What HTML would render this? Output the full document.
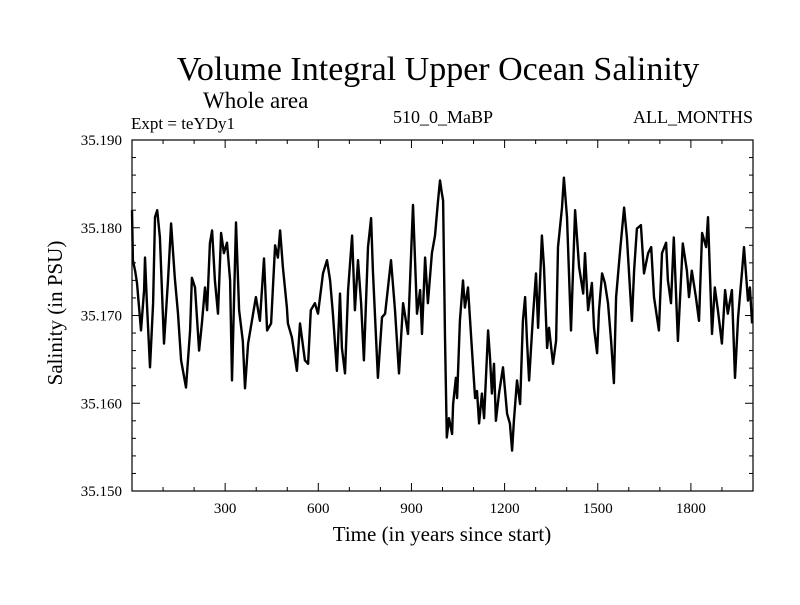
<!DOCTYPE html>
<html><head><meta charset="utf-8"><style>
body{margin:0;background:#fff}
svg text{font-family:"Liberation Serif",serif;fill:#000}
</style></head><body>
<svg width="800" height="600" viewBox="0 0 800 600">
<text x="438" y="80" font-size="34" text-anchor="middle">Volume Integral Upper Ocean Salinity</text>
<text x="203" y="108" font-size="23">Whole area</text>
<text x="131" y="129" font-size="17">Expt = teYDy1</text>
<text x="443" y="123" font-size="18" text-anchor="middle">510_0_MaBP</text>
<text x="753" y="123" font-size="18" text-anchor="end">ALL_MONTHS</text>
<text x="442" y="541" font-size="21" text-anchor="middle">Time (in years since start)</text>
<text transform="translate(62,313) rotate(-90)" font-size="21" text-anchor="middle">Salinity (in PSU)</text>
<g id="axes"></g>
<rect x="132" y="140" width="621" height="351" fill="none" stroke="#000" stroke-width="1.2"/>
<path id="series" fill="none" stroke="#000" stroke-width="2.4" stroke-linejoin="round"/>
</svg>
<script>
const years=[0,3,10,16,29,39,42,48,58,68,74,81,90,103,116,126,138,148,158,174,187,193,203,216,225,235,242,251,258,267,277,287,296,306,316,322,335,345,357,364,374,390,399,412,425,435,448,461,470,477,486,499,502,515,531,541,557,567,576,589,599,615,628,638,647,660,670,676,686,696,709,718,728,738,747,760,770,776,792,805,815,834,847,860,873,889,905,918,928,934,944,953,966,976,985,992,998,1002,1008,1014,1021,1031,1034,1043,1047,1056,1066,1072,1082,1095,1105,1111,1118,1127,1134,1147,1153,1159,1166,1172,1182,1195,1208,1217,1224,1230,1240,1250,1259,1266,1272,1279,1291,1301,1308,1320,1327,1337,1343,1356,1366,1372,1385,1391,1401,1414,1427,1440,1453,1459,1469,1481,1488,1498,1504,1514,1523,1533,1543,1552,1559,1572,1585,1594,1610,1617,1626,1639,1649,1662,1672,1681,1697,1707,1720,1726,1736,1745,1758,1774,1787,1794,1803,1816,1826,1836,1849,1855,1868,1877,1887,1900,1910,1919,1932,1942,1952,1965,1971,1984,1990,1997];
const salinity=[35.1820,35.1763,35.1751,35.1737,35.1683,35.1729,35.1766,35.1714,35.1641,35.1714,35.1812,35.1820,35.1789,35.1668,35.1740,35.1805,35.1743,35.1702,35.1649,35.1618,35.1683,35.1743,35.1732,35.1660,35.1691,35.1732,35.1706,35.1782,35.1797,35.1740,35.1702,35.1794,35.1771,35.1783,35.1740,35.1626,35.1806,35.1706,35.1671,35.1617,35.1668,35.1702,35.1721,35.1694,35.1765,35.1683,35.1691,35.1780,35.1766,35.1797,35.1755,35.1709,35.1691,35.1675,35.1637,35.1691,35.1649,35.1645,35.1706,35.1714,35.1702,35.1748,35.1763,35.1740,35.1702,35.1637,35.1725,35.1663,35.1634,35.1729,35.1791,35.1706,35.1763,35.1714,35.1649,35.1778,35.1811,35.1751,35.1629,35.1698,35.1702,35.1763,35.1706,35.1634,35.1714,35.1679,35.1826,35.1702,35.1729,35.1679,35.1766,35.1714,35.1771,35.1791,35.1828,35.1854,35.1839,35.1831,35.1675,35.1561,35.1583,35.1565,35.1599,35.1629,35.1606,35.1694,35.1740,35.1709,35.1732,35.1660,35.1606,35.1614,35.1577,35.1611,35.1583,35.1683,35.1652,35.1611,35.1645,35.1580,35.1611,35.1641,35.1588,35.1577,35.1546,35.1580,35.1626,35.1599,35.1694,35.1721,35.1671,35.1626,35.1698,35.1748,35.1686,35.1791,35.1755,35.1663,35.1686,35.1645,35.1671,35.1778,35.1823,35.1857,35.1812,35.1683,35.1820,35.1755,35.1725,35.1771,35.1706,35.1737,35.1686,35.1657,35.1706,35.1748,35.1737,35.1714,35.1671,35.1623,35.1721,35.1774,35.1823,35.1789,35.1694,35.1751,35.1799,35.1803,35.1748,35.1771,35.1778,35.1721,35.1683,35.1771,35.1783,35.1740,35.1714,35.1789,35.1671,35.1782,35.1751,35.1721,35.1751,35.1721,35.1694,35.1794,35.1778,35.1812,35.1679,35.1732,35.1706,35.1668,35.1729,35.1702,35.1729,35.1629,35.1698,35.1751,35.1778,35.1717,35.1732,35.1691];
const xTicks=[300,600,900,1200,1500,1800];
const yTicks=[35.150,35.160,35.170,35.180,35.190];
const yTickLabels=["35.150","35.160","35.170","35.180","35.190"];
const X0=132,X1=753,Y0=140,Y1=491,XMIN=0,XMAX=2000,YMIN=35.150,YMAX=35.190;
const sx=v=>X0+(v-XMIN)/(XMAX-XMIN)*(X1-X0);
const sy=v=>Y1-(v-YMIN)/(YMAX-YMIN)*(Y1-Y0);
const NS="http://www.w3.org/2000/svg";
const axes=document.getElementById('axes');
function line(x1,y1,x2,y2){const l=document.createElementNS(NS,'line');l.setAttribute('x1',x1);l.setAttribute('y1',y1);l.setAttribute('x2',x2);l.setAttribute('y2',y2);l.setAttribute('stroke','#000');l.setAttribute('stroke-width','1');


axes.appendChild(l);}
function txt(x,y,s,anchor){const t=document.createElementNS(NS,'text');t.setAttribute('x',x);t.setAttribute('y',y);t.setAttribute('font-size','15');t.setAttribute('text-anchor',anchor);t.textContent=s;


axes.appendChild(t);}
for(let v=100;v<XMAX;v+=100){const x=sx(v);const L=(v%300===0)?8:4;line(x,Y1,x,Y1-L);line(x,Y0,x,Y0+L);}
xTicks.forEach(v=>txt(sx(v),513,String(v),'middle'));
for(let i=1;i<20;i++){const v=YMIN+i*0.002;const y=sy(v);const L=(i%5===0)?8:4;line(X0,y,X0+L,y);line(X1,y,X1-L,y);}
yTicks.forEach((v,i)=>txt(122,sy(v)+5,yTickLabels[i],'end'));
let d='';years.forEach((yr,i)=>{d+=(i?'L':'M')+sx(yr).toFixed(1)+' '+sy(salinity[i]).toFixed(1);});
document.getElementById('series').setAttribute('d',d);
</script>
</body></html>
